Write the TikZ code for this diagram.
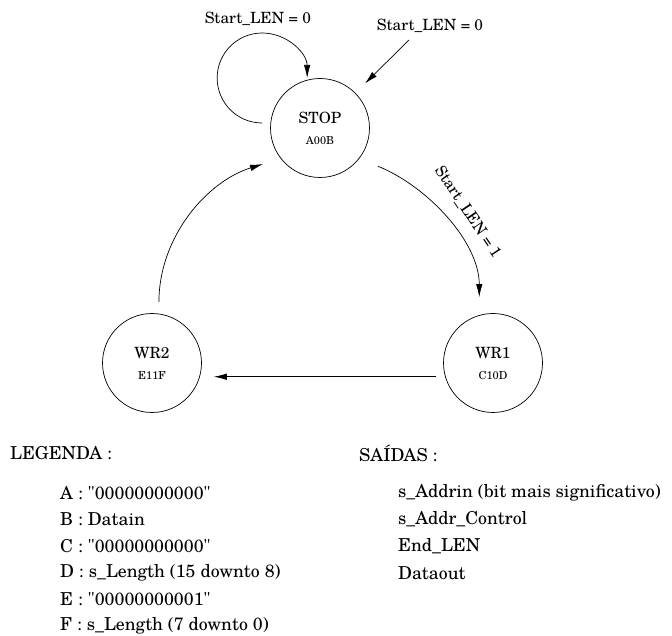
\documentclass[tikz,border=0pt]{standalone}
\usepackage{fontspec}
\setmainfont{TeX Gyre Schola}
\usetikzlibrary{arrows.meta}
\newcommand{\St}[2]{#1\\[2pt]{\fontsize{11}{12}\selectfont #2}}
\newcommand{\Cond}[1]{Start\_LEN = #1}
\newcommand{\Bits}[1]{\textquotedbl#1\textquotedbl}

\begin{document}
\begin{tikzpicture}[
      x=1pt,y=1pt,
      every node/.style={font=\fontsize{15.5}{19}\selectfont},
      state/.style={draw,line width=0.7pt,circle,minimum size=99pt,inner sep=0pt,align=center},
      trans/.style={line width=0.7pt,-{Latex[length=13pt,width=6.5pt]}},
      legend/.style={anchor=west,inner sep=0pt,font=\fontsize{17.8}{22}\selectfont}
    ]
    \useasboundingbox (0,0) rectangle (672,635);
    % Draw the states.
    \node[state] (stop) at (320,507) {\St{STOP}{A00B}};
    \node[state] (wr1) at (493,272) {\St{WR1}{C10D}};
    \node[state] (wr2) at (152,272) {\St{WR2}{E11F}};
    % Draw the transitions.
    \draw[trans] (stop.west) ++(-8,5) arc[start angle=270,end angle=0,radius=45]
      node[pos=0.67,above=4pt,xshift=-5pt] (c0) {\Cond{0}};
    \coordinate (init) at (409,595);
    \draw[trans,shorten >=13.5pt] (init) -- (stop);
    \node (c0b) at (430,609) {\Cond{0}};
    \draw[trans,shorten <=20pt,shorten >=18pt] (stop.-38) to[out=-22,in=90,looseness=0.95] (wr1.106);
    \node[rotate=-56] (c1) at (468,423) {\Cond{1}};
    \draw[trans,shorten >=14pt,shorten <=9pt] (wr1.196) -- (wr2.-16);
    \draw[trans,shorten <=11.7pt,shorten >=18.5pt] (wr2.82) to[out=90,in=197,looseness=1] (stop.218);
    % Draw the legend.
    \node[legend] (leg) at (10,182) {LEGENDA :};
    \node[legend] (out) at (359,182) {SAÍDAS :};
    \foreach \t [count=\i] in {A : \Bits{00000000000}, B : Datain, C : \Bits{00000000000},
        D : s\_Length (15 downto 8), E : \Bits{00000000001}, F : s\_Length (7 downto 0)}
      \node[legend] (leg\i) at (60,{168.6-26.6*\i}) {\t};
    \foreach \t [count=\i] in {s\_Addrin (bit mais significativo), s\_Addr\_Control,
        End\_LEN, Dataout}
      \node[legend] (out\i) at (398,{168.6-26.6*\i}) {\t};
\end{tikzpicture}
\end{document}
